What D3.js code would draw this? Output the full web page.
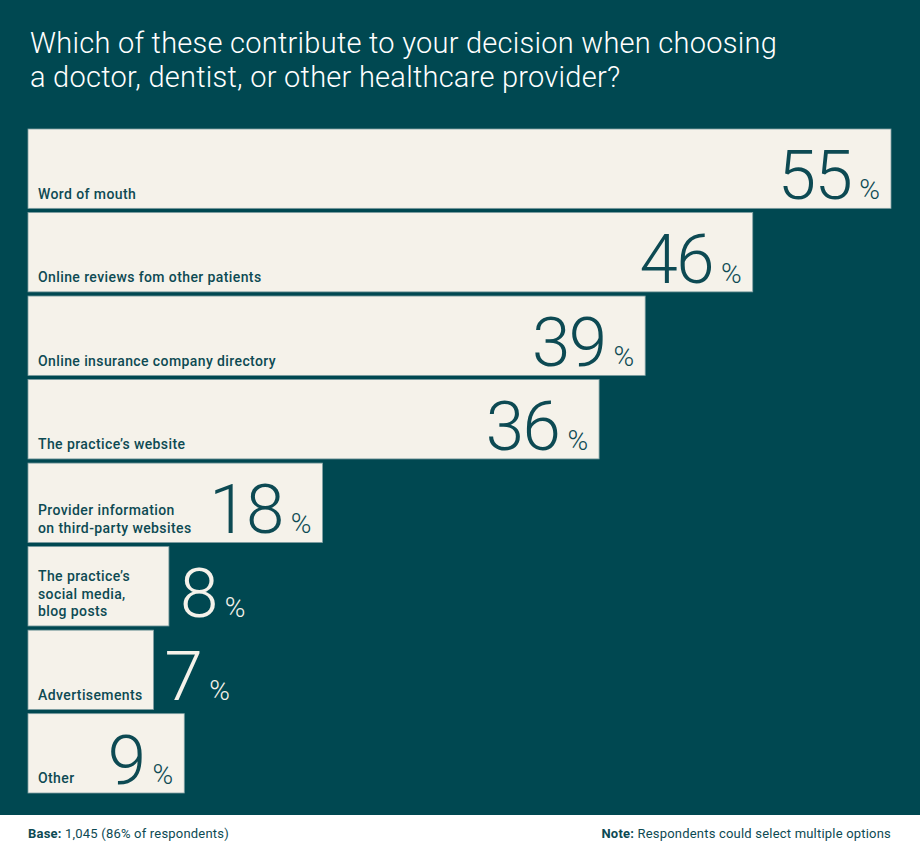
<!DOCTYPE html>
<html>
<head>
<meta charset="utf-8">
<script src="https://cdn.jsdelivr.net/npm/d3@7"></script>
<style>
  body { margin: 0; background: #fff; }
  svg { display: block; }
</style>
</head>
<body>
<div id="chart"></div>
<script>
// chart data
var categories = [
  ["Word of mouth"],
  ["Online reviews fom other patients"],
  ["Online insurance company directory"],
  ["The practice\u2019s website"],
  ["Provider information", "on third-party websites"],
  ["The practice\u2019s", "social media,", "blog posts"],
  ["Advertisements"],
  ["Other"]
];
var values = [55, 46, 39, 36, 18, 8, 7, 9];
var titleLines = [
  "Which of these contribute to your decision when choosing",
  "a doctor, dentist, or other healthcare provider?"
];
var baseNote = ["Base:", " 1,045 (86% of respondents)"];
var multiNote = ["Note:", " Respondents could select multiple options"];

var W = 920, H = 853,
  panelH = 815,
  margin = {top: 129, left: 28};

var teal = "#004851", cream = "#f5f2ea", ink = "#0d4a53";

var svg = d3.select("#chart")
  .append("svg")
    .attr("width", W)
    .attr("height", H);

svg.append("rect")
  .attr("width", W)
  .attr("height", panelH)
  .attr("fill", teal);

// title
svg.append("g")
  .selectAll("text")
  .data(titleLines)
  .enter()
  .append("text")
    .attr("x", 30)
    .attr("y", function(d, i) { return 53 + i * 34; })
    .attr("fill", "#fff")
    .style("font-family", "Roboto, sans-serif")
    .style("font-weight", 300)
    .style("font-size", "29px")
    .style("letter-spacing", "0.25px")
    .text(function(d) { return d; });

// scales
var x = d3.scaleLinear()
  .domain([0, 55])
  .range([18, 863]);

var y = d3.scaleBand()
  .domain(d3.range(values.length))
  .range([margin.top, margin.top + 83 * values.length])
  .paddingInner(0.05)
  .paddingOuter(0.0);

var bars = svg.append("g")
  .selectAll("g")
  .data(values)
  .enter()
  .append("g")
    .attr("transform", function(d, i) { return "translate(" + margin.left + "," + y(i) + ")"; });

bars.append("rect")
  .attr("width", function(d) { return x(d); })
  .attr("height", y.bandwidth())
  .attr("fill", cream)
  .attr("stroke", "#7f9fa2")
  .attr("stroke-width", 0.8);

// labels and values
bars.each(function(d, i) {
  var g = d3.select(this),
    lines = categories[i],
    h = y.bandwidth();
  var lab = g.append("text")
    .attr("fill", ink)
    .style("font-family", "Roboto, sans-serif")
    .style("font-weight", 500)
    .style("font-size", "14px")
    .style("letter-spacing", "0.4px");
  lines.forEach(function(l, k) {
    lab.append("tspan")
      .attr("x", 10)
      .attr("y", h - 9.5 - (lines.length - 1 - k) * 17.5)
      .text(l);
  });
  var labW = lab.node().getBBox().width;

  var num = g.append("text")
    .style("font-family", "Roboto, sans-serif")
    .style("font-weight", 300)
    .attr("y", h - 9);
  num.append("tspan")
    .style("font-size", "69px")
    .style("letter-spacing", "-1.5px")
    .text(d);
  num.append("tspan")
    .attr("dx", 8)
    .style("font-size", "28px")
    .text("%");
  var numW = num.node().getBBox().width,
    bw = x(d);
  if (10 + labW + 16 + numW + 12 <= bw) {
    num.attr("x", bw - 11 - numW).attr("fill", ink);
  } else {
    num.attr("x", bw + 11).attr("fill", cream);
  }
});

// footer notes
function note(parts, xPos, anchor) {
  var t = svg.append("text")
    .attr("x", xPos)
    .attr("y", 838)
    .attr("fill", ink)
    .attr("text-anchor", anchor)
    .style("font-family", "Roboto, sans-serif")
    .style("font-size", "13px")
    .style("letter-spacing", "0.2px");
  t.append("tspan").style("font-weight", 700).text(parts[0]);
  t.append("tspan").text(parts[1]);
}
note(baseNote, 28, "start");
note(multiNote, 891, "end");
</script>
</body>
</html>
